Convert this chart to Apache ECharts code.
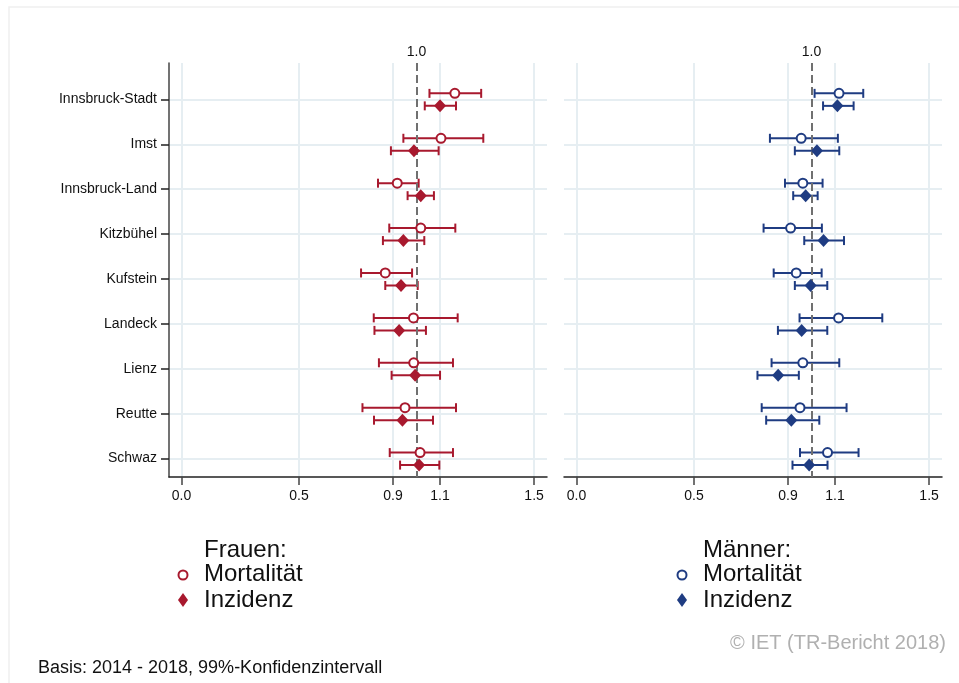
<!DOCTYPE html>
<html>
<head>
<meta charset="utf-8">
<title>Mortalität und Inzidenz nach Bezirk</title>
<script src="https://cdn.jsdelivr.net/npm/echarts@6/dist/echarts.min.js"></script>
<style>
  html, body { margin: 0; padding: 0; background: #fff; }
  #chart { width: 959px; height: 683px; }
</style>
</head>
<body>
<div id="chart"></div>
<script>
// Bezirke (von oben nach unten)
var bezirke = ['Innsbruck-Stadt', 'Imst', 'Innsbruck-Land', 'Kitzbühel', 'Kufstein',
  'Landeck', 'Lienz', 'Reutte', 'Schwaz'];
var xTicks = [0, 0.5, 0.9, 1.1, 1.5];

// Frauen
var frauenMort    = [1.163, 1.104, 0.918, 1.018, 0.867, 0.987, 0.988, 0.951, 1.015];
var frauenMortLo  = [1.055, 0.944, 0.836, 0.884, 0.764, 0.818, 0.840, 0.770, 0.886];
var frauenMortHi  = [1.275, 1.284, 1.009, 1.165, 0.981, 1.175, 1.155, 1.168, 1.155];
var frauenInz     = [1.100, 0.989, 1.018, 0.944, 0.934, 0.926, 0.994, 0.940, 1.011];
var frauenInzLo   = [1.035, 0.891, 0.962, 0.857, 0.867, 0.821, 0.894, 0.819, 0.930];
var frauenInzHi   = [1.168, 1.094, 1.074, 1.033, 1.005, 1.040, 1.100, 1.070, 1.097];

// Männer
var maennerMort   = [1.117, 0.956, 0.963, 0.911, 0.935, 1.115, 0.963, 0.951, 1.068];
var maennerMortLo = [1.013, 0.823, 0.887, 0.796, 0.839, 0.949, 0.830, 0.788, 0.951];
var maennerMortHi = [1.220, 1.112, 1.047, 1.044, 1.043, 1.301, 1.118, 1.149, 1.200];
var maennerInz    = [1.110, 1.023, 0.975, 1.051, 0.996, 0.958, 0.858, 0.914, 0.990];
var maennerInzLo  = [1.049, 0.929, 0.922, 0.969, 0.929, 0.857, 0.770, 0.807, 0.919];
var maennerInzHi  = [1.179, 1.118, 1.026, 1.138, 1.067, 1.067, 0.946, 1.033, 1.068];

var rot = '#a8192e';
var blau = '#1f3c82';
var gridColor = '#e6eef2';
var font = 'Liberation Sans, Arial, sans-serif';

function points(vals) {
  return vals.map(function (v, i) { return [v, i]; });
}
function bars(lo, hi) {
  return lo.map(function (v, i) { return [v, hi[i], i]; });
}

// Fehlerbalken mit Endstrichen, dy = Versatz in Pixel
function errorBar(color, dy) {
  return function (params, api) {
    var a = api.coord([api.value(0), api.value(2)]);
    var b = api.coord([api.value(1), api.value(2)]);
    var y = a[1] + dy;
    var st = { stroke: color, lineWidth: 2 };
    return {
      type: 'group',
      children: [
        { type: 'line', shape: { x1: a[0], y1: y, x2: b[0], y2: y }, style: st },
        { type: 'line', shape: { x1: a[0], y1: y - 4.5, x2: a[0], y2: y + 4.5 }, style: st },
        { type: 'line', shape: { x1: b[0], y1: y - 4.5, x2: b[0], y2: y + 4.5 }, style: st }
      ]
    };
  };
}

function panelSeries(idx, color, mort, mortLo, mortHi, inz, inzLo, inzHi) {
  return [
    {
      type: 'custom', xAxisIndex: idx, yAxisIndex: idx, silent: true,
      renderItem: errorBar(color, -6),
      encode: { x: [0, 1], y: 2 },
      data: bars(mortLo, mortHi),
      z: 3,
      markLine: {
        silent: true, symbol: 'none', label: { show: false },
        lineStyle: { color: '#707070', width: 2, type: [8, 4] },
        data: [{ xAxis: 1 }]
      }
    },
    {
      type: 'custom', xAxisIndex: idx, yAxisIndex: idx, silent: true,
      renderItem: errorBar(color, 6.5),
      encode: { x: [0, 1], y: 2 },
      data: bars(inzLo, inzHi),
      z: 3
    },
    {
      type: 'scatter', xAxisIndex: idx, yAxisIndex: idx, silent: true,
      symbol: 'circle', symbolSize: 9, symbolOffset: [0, -6],
      itemStyle: { color: '#fff', borderColor: color, borderWidth: 2, opacity: 1 },
      data: points(mort), z: 5
    },
    {
      type: 'scatter', xAxisIndex: idx, yAxisIndex: idx, silent: true,
      symbol: 'diamond', symbolSize: [12, 13], symbolOffset: [0, 6.5],
      itemStyle: { color: color, opacity: 1 },
      data: points(inz), z: 5
    }
  ];
}

function bottomAxis(g) {
  return {
    type: 'value', gridIndex: g, position: 'bottom', min: -0.053, max: 1.555,
    axisLine: { show: true, onZero: false, lineStyle: { color: '#222', width: 1.5 } },
    axisTick: { show: true, length: 8, customValues: xTicks, lineStyle: { color: '#444', width: 1.5 } },
    axisLabel: {
      customValues: xTicks, margin: 12, color: '#111', fontSize: 14, fontFamily: font,
      formatter: function (v) { return v.toFixed(1); }
    },
    splitLine: { show: true, lineStyle: { color: gridColor, width: 2 } }
  };
}
function topAxis(g) {
  return {
    type: 'value', gridIndex: g, position: 'top', min: -0.053, max: 1.555,
    axisLine: { show: false, onZero: false }, axisTick: { show: false }, splitLine: { show: false },
    axisLabel: {
      customValues: [1], margin: 4, color: '#111', fontSize: 14, fontFamily: font,
      formatter: function (v) { return v.toFixed(1); }
    }
  };
}
function yAxis(g, labels) {
  var ticks = bezirke.map(function (n, i) { return i; });
  return {
    type: 'value', gridIndex: g, position: 'left', inverse: true, min: -0.81, max: 8.41,
    axisLine: { show: labels, onZero: false, lineStyle: { color: '#444', width: 1.5 } },
    axisTick: { show: labels, length: 8, customValues: ticks, lineStyle: { color: '#222', width: 1.5 } },
    axisLabel: {
      show: labels, customValues: ticks, margin: 12, color: '#111', fontSize: 14, fontFamily: font,
      formatter: function (v) { return bezirke[Math.round(v)] || ''; }
    },
    splitLine: { show: true, lineStyle: { color: gridColor, width: 2 } }
  };
}

function legendBlock(x, title, color) {
  var tx = x + 21;
  return [
    { type: 'text', left: tx, top: 538, style: { text: title, font: '24px ' + font, fill: '#111' } },
    { type: 'text', left: tx, top: 562, style: { text: 'Mortalität', font: '24px ' + font, fill: '#111' } },
    { type: 'text', left: tx, top: 588, style: { text: 'Inzidenz', font: '24px ' + font, fill: '#111' } },
    { type: 'circle', shape: { cx: x, cy: 575, r: 4.5 }, style: { fill: '#fff', stroke: color, lineWidth: 2 } },
    { type: 'polygon', shape: { points: [[x, 593], [x + 5, 600], [x, 607], [x - 5, 600]] }, style: { fill: color } }
  ];
}

var chart = echarts.init(document.getElementById('chart'), null, { renderer: 'canvas' });
chart.setOption({
  backgroundColor: '#fff',
  animation: false,
  grid: [
    { left: 169, top: 63, width: 378, height: 414 },
    { left: 564, top: 63, width: 378, height: 414 }
  ],
  xAxis: [bottomAxis(0), bottomAxis(1), topAxis(0), topAxis(1)],
  yAxis: [yAxis(0, true), yAxis(1, false)],
  series: [].concat(
    panelSeries(0, rot, frauenMort, frauenMortLo, frauenMortHi, frauenInz, frauenInzLo, frauenInzHi),
    panelSeries(1, blau, maennerMort, maennerMortLo, maennerMortHi, maennerInz, maennerInzLo, maennerInzHi)
  ),
  graphic: [].concat(
    [{ type: 'rect', shape: { x: 9, y: 7, width: 960, height: 690 }, style: { fill: 'none', stroke: '#f0f0f0', lineWidth: 1.5 }, silent: true }],
    legendBlock(183, 'Frauen:', rot),
    legendBlock(682, 'Männer:', blau),
    [
      { type: 'text', right: 13, top: 633, style: { text: '© IET (TR-Bericht 2018)', font: '20px ' + font, fill: '#b0b0b0' } },
      { type: 'text', left: 38, top: 659, style: { text: 'Basis: 2014 - 2018, 99%-Konfidenzintervall', font: '18px ' + font, fill: '#111' } }
    ]
  )
});
</script>
</body>
</html>
